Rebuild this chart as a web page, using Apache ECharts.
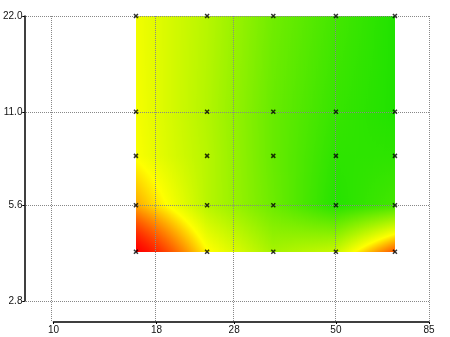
<!DOCTYPE html>
<html><head><meta charset="utf-8">
<script src="https://cdn.jsdelivr.net/npm/echarts@6/dist/echarts.min.js"></script>
<style>html,body{margin:0;padding:0;background:#fff}#c{width:450px;height:337px}</style>
</head><body><div id="c"></div>
<script>
// ---- data ----
const xValues = [16, 24, 35, 50, 70];
const yValues = [4, 5.6, 8, 11, 22];
// rows follow yValues (bottom to top), columns follow xValues
const zRow4   = [0.00, 0.49, 0.70, 0.62, 0.24];
const zRow5_6 = [0.38, 0.66, 0.83, 0.99, 0.92];
const zRow8   = [0.51, 0.66, 0.84, 0.97, 0.97];
const zRow11  = [0.52, 0.67, 0.84, 0.95, 1.00];
const zRow22  = [0.53, 0.66, 0.82, 0.92, 1.00];
const zRows = [zRow4, zRow5_6, zRow8, zRow11, zRow22];
const xTicks = [10, 18, 28, 50, 85];
const yTicks = [2.8, 5.6, 11.0, 22.0];

// colour ramp: red -> yellow -> green at 0, 0.5, 1
const rampColors = [[255, 0, 0], [255, 255, 0], [32, 226, 0]];
function rampColor(v) {
  v = Math.max(0, Math.min(1, v));
  let a, b, t;
  if (v <= 0.5) { a = rampColors[0]; b = rampColors[1]; t = Math.pow(v / 0.5, 1.5); }
  else { a = rampColors[1]; b = rampColors[2]; t = (v - 0.5) / 0.5; }
  const c = a.map((x, k) => Math.round(x + (b[k] - x) * t));
  return 'rgb(' + c.join(',') + ')';
}
function stripGradient(vTop, vBot) {
  const offs = [];
  const N = 10;
  for (let k = 0; k <= N; k++) offs.push(k / N);
  if ((vTop - 0.5) * (vBot - 0.5) < 0) offs.push((0.5 - vTop) / (vBot - vTop));
  offs.sort((a, b) => a - b);
  const stops = offs.map(o => ({ offset: o, color: rampColor(vTop + (vBot - vTop) * o) }));
  return new echarts.graphic.LinearGradient(0, 0, 0, 1, stops);
}

// cells built from the arrays
const cells = [];
for (let j = 0; j < yValues.length - 1; j++) {
  for (let i = 0; i < xValues.length - 1; i++) {
    cells.push([xValues[i], xValues[i + 1], yValues[j], yValues[j + 1],
      zRows[j][i], zRows[j][i + 1], zRows[j + 1][i], zRows[j + 1][i + 1]]);
  }
}
const nodes = [];
yValues.forEach(y => xValues.forEach(x => nodes.push([x, y])));

// ---- layout ----
const xMin = xTicks[0], xMax = xTicks[xTicks.length - 1];
const yMin = yTicks[0], yMax = yTicks[yTicks.length - 1];
const inner = { left: 51, right: 21, top: 16, bottom: 36 };
const outer = { left: 22, right: 21, top: 16, bottom: 15 };
const W = 450, H = 337;
const innerW = W - inner.left - inner.right, innerH = H - inner.top - inner.bottom;
const xMinOuter = xMin * Math.pow(xMax / xMin, -(inner.left - outer.left) / innerW);
const yMinOuter = yMin * Math.pow(yMax / yMin, -(inner.bottom - outer.bottom) / innerH);

const gridLine = { show: true, lineStyle: { color: '#888', type: [1, 1], width: 1 } };
const labelFont = { fontFamily: 'Liberation Sans, Arial, sans-serif', fontSize: 10, color: '#111' };

const chart = echarts.init(document.getElementById('c'), null, { renderer: 'canvas' });
chart.setOption({
  animation: false,
  backgroundColor: '#fff',
  grid: [
    Object.assign({ containLabel: false }, outer),
    Object.assign({ containLabel: false }, inner)
  ],
  xAxis: [
    { type: 'log', gridIndex: 0, min: xMinOuter, max: xMax, z: 5,
      axisLine: { show: false }, axisTick: { show: false, customValues: xTicks },
      axisLabel: { show: false, customValues: xTicks }, splitLine: gridLine },
    { type: 'log', gridIndex: 1, min: xMin, max: xMax, position: 'bottom', offset: inner.bottom - outer.bottom, z: 6,
      axisLine: { show: true, lineStyle: { color: '#000', width: 1.5 } },
      axisTick: { show: true, length: 2, customValues: xTicks, lineStyle: { color: '#000' } },
      axisLabel: Object.assign({ show: true, customValues: xTicks, margin: 3, formatter: v => String(Math.round(v)) }, labelFont),
      splitLine: { show: false } }
  ],
  yAxis: [
    { type: 'log', gridIndex: 0, min: yMinOuter, max: yMax, z: 5,
      axisLine: { show: false }, axisTick: { show: false, customValues: yTicks },
      axisLabel: { show: false, customValues: yTicks }, splitLine: gridLine },
    { type: 'log', gridIndex: 1, min: yMin, max: yMax, position: 'left', offset: inner.left - outer.left, z: 6,
      axisLine: { show: true, lineStyle: { color: '#000', width: 1.5 } },
      axisTick: { show: true, length: 2, customValues: yTicks, lineStyle: { color: '#000' } },
      axisLabel: Object.assign({ show: true, customValues: yTicks, margin: 2, formatter: v => v.toFixed(1) }, labelFont),
      splitLine: { show: false } }
  ],
  series: [
    { type: 'custom', xAxisIndex: 1, yAxisIndex: 1, z: 2, clip: false, silent: true,
      data: cells,
      encode: { x: [0, 1], y: [2, 3] },
      renderItem: function (params, api) {
        const xa = api.value(0), xb = api.value(1), ya = api.value(2), yb = api.value(3);
        const vA = api.value(4), vB = api.value(5), vC = api.value(6), vD = api.value(7);
        const pA = api.coord([xa, ya]), pD = api.coord([xb, yb]);
        const left = Math.round(pA[0]), right = Math.round(pD[0]);
        const bottom = Math.round(pA[1]), top = Math.round(pD[1]);
        const children = [];
        for (let px = left; px < right; px++) {
          const t = (px + 0.5 - left) / (right - left);
          const vBot = vA + (vB - vA) * t;
          const vTop = vC + (vD - vC) * t;
          children.push({ type: 'rect', silent: true,
            shape: { x: px, y: top, width: px < right - 1 ? 1.6 : 1, height: bottom - top },
            style: { fill: stripGradient(vTop, vBot) } });
        }
        return { type: 'group', children: children };
      } },
    { type: 'scatter', xAxisIndex: 1, yAxisIndex: 1, z: 10, silent: true,
      data: nodes,
      symbol: 'path://M0 0L4 4M4 0L0 4', symbolSize: 4,
      itemStyle: { color: 'rgba(0,0,0,0)', borderColor: '#000', borderWidth: 1.5 } }
  ]
});
</script></body></html>
